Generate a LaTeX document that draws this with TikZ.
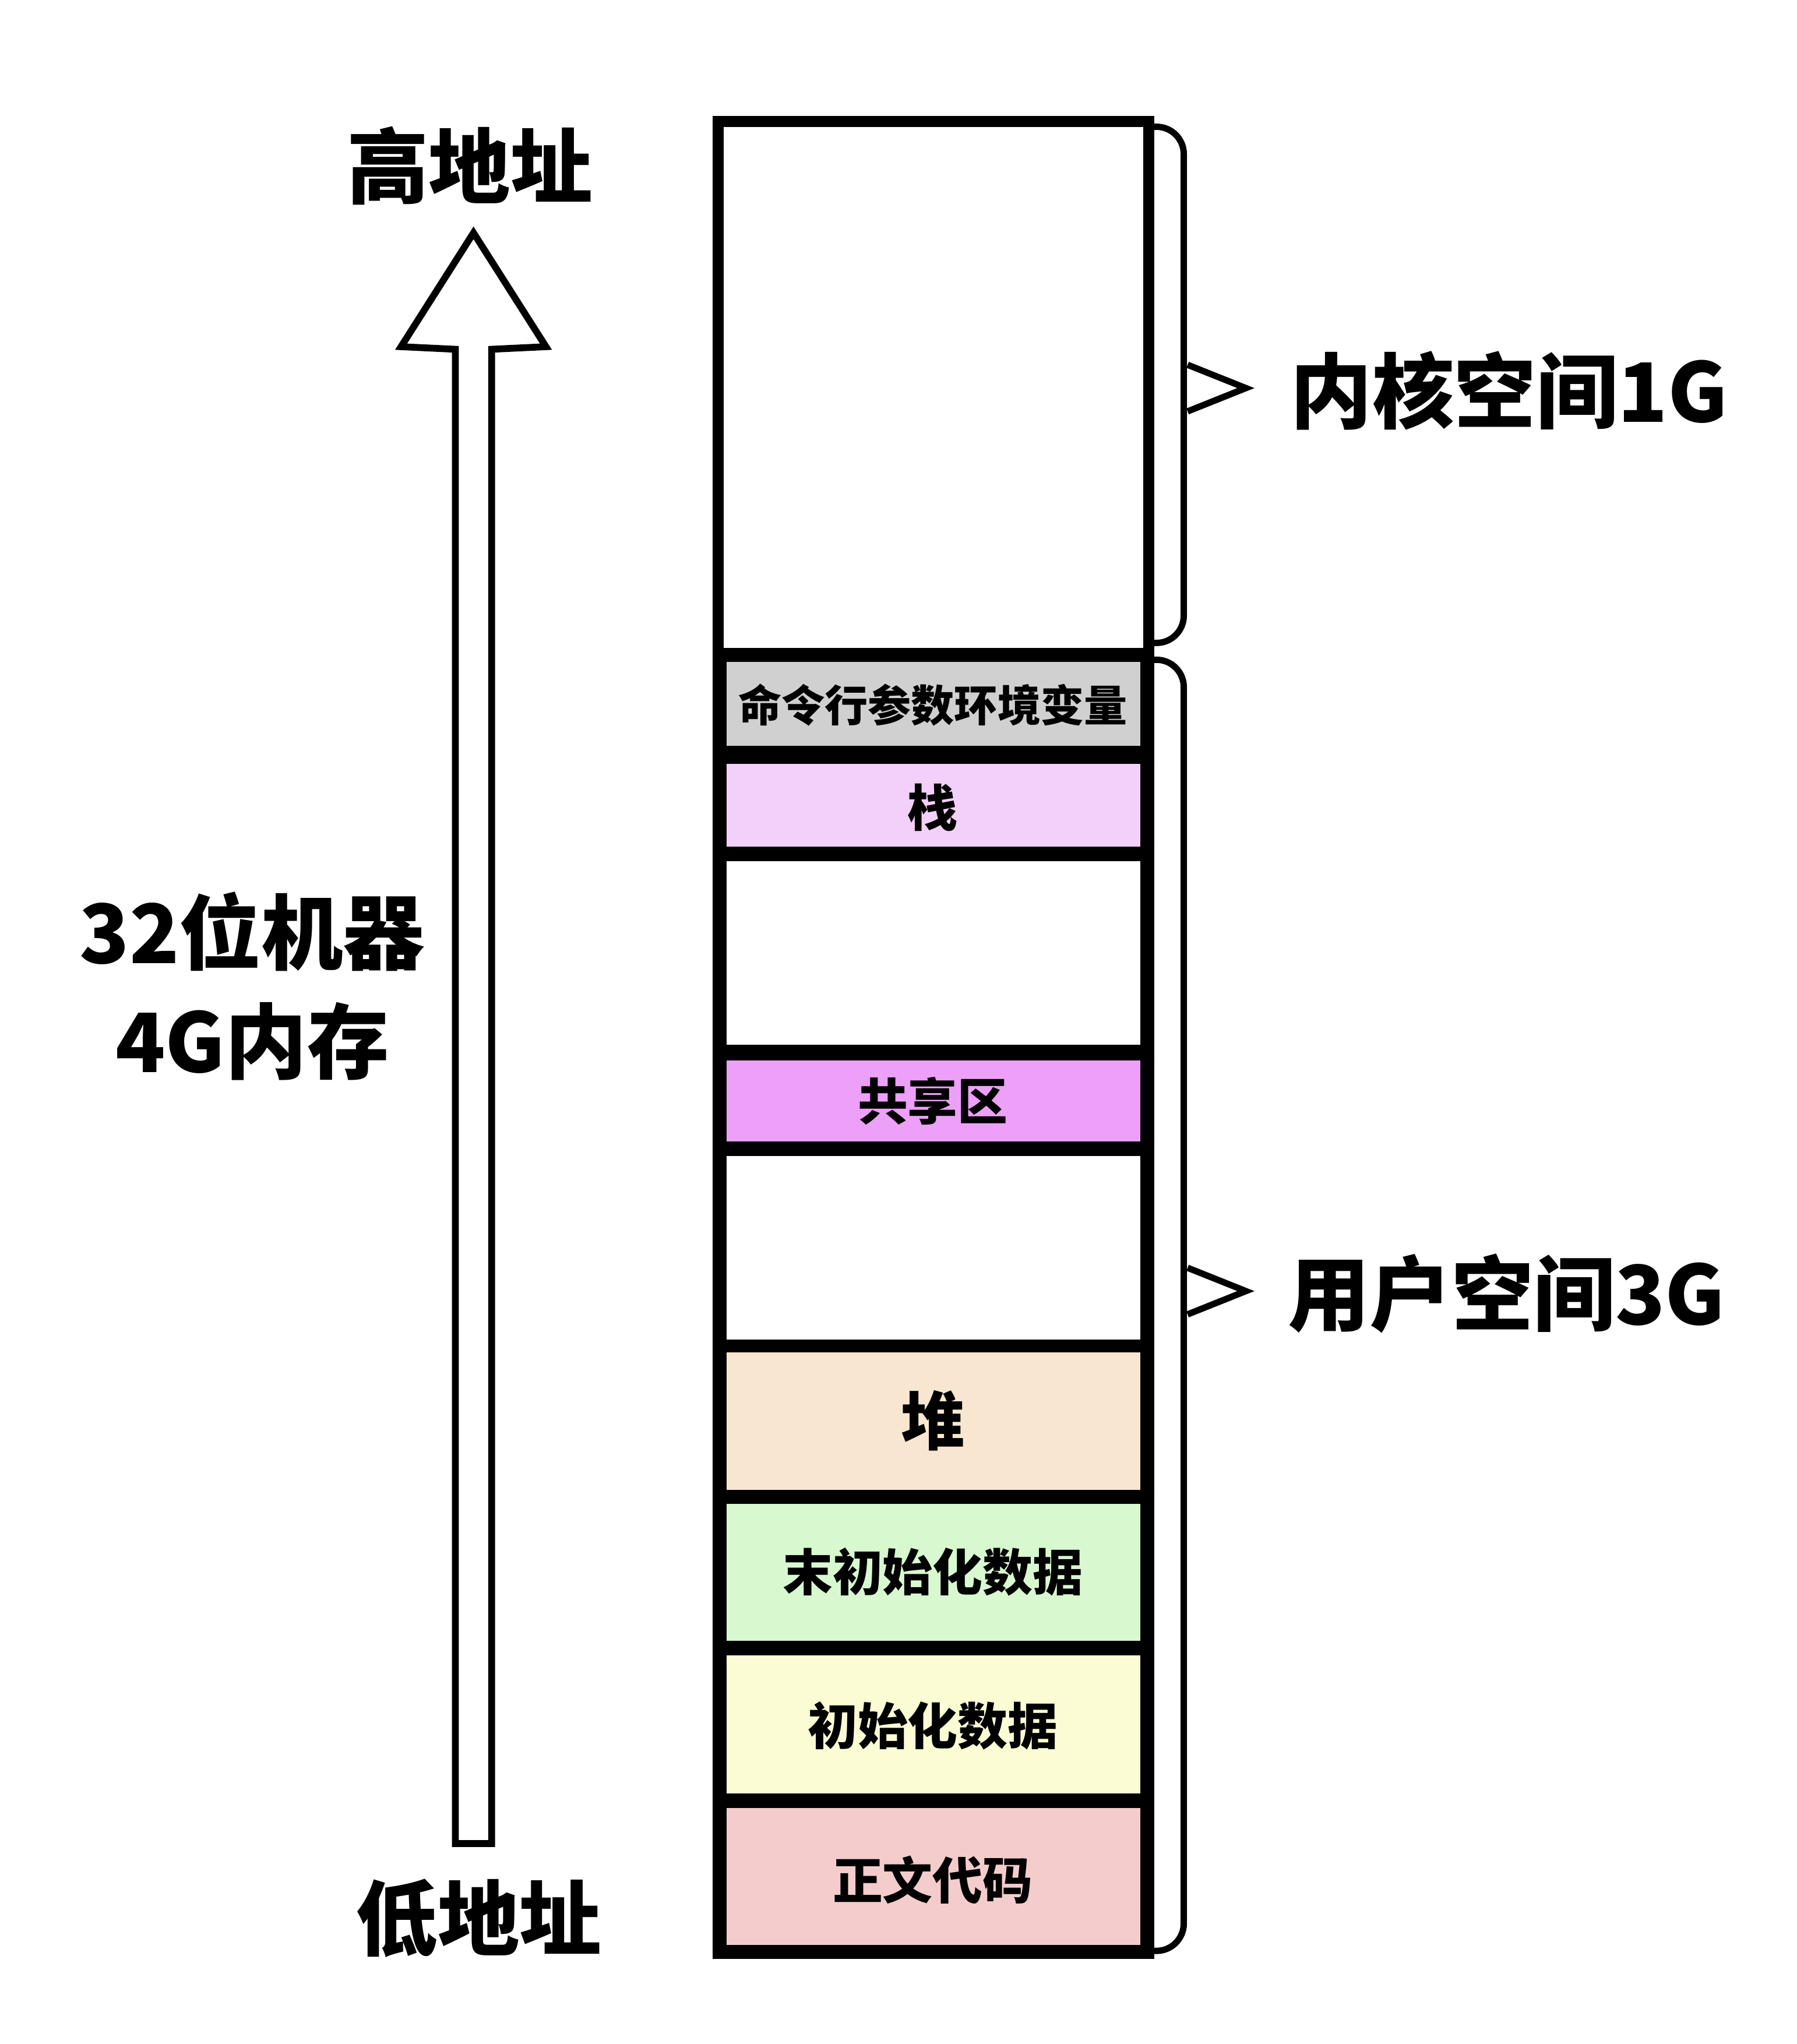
\documentclass[tikz,border=0pt]{standalone}
\usepackage{fontspec}
\newfontfamily\cjk{Noto Sans CJK SC}
\begin{document}
\begin{tikzpicture}[x=0.01cm,y=-0.01cm,
  seg/.style={draw=black,line width=2pt},
  lbl/.style={font=\cjk\bfseries\fontsize{11}{13}\selectfont},
  big/.style={font=\cjk\bfseries\fontsize{18}{22}\selectfont}]
\useasboundingbox (0,0) rectangle (1389,1580);
\definecolor{cgray}{HTML}{D0D0D0}
\definecolor{cstack}{HTML}{F3D0FA}
\definecolor{cshare}{HTML}{EDA0F8}
\definecolor{cheap}{HTML}{F9E6D0}
\definecolor{cbss}{HTML}{D8F8D0}
\definecolor{cdata}{HTML}{FCFCD4}
\definecolor{ctext}{HTML}{F4CCCC}
% rows
\path[seg,fill=cgray] (558,508) rectangle (885,580);
\node[font=\cjk\bfseries\fontsize{9.5}{11}\selectfont] (r1) at (721,545) {命令行参数环境变量};
\path[seg,fill=cstack] (558,587) rectangle (885,658);
\node[lbl] (r2) at (721,624) {栈};
\path[seg,fill=white] (558,662) rectangle (885,811);
\path[seg,fill=cshare] (558,816) rectangle (885,886);
\node[lbl] (r3) at (721,851) {共享区};
\path[seg,fill=white] (558,890) rectangle (885,1039);
\path[seg,fill=cheap] (558,1042) rectangle (885,1155);
\node[font=\cjk\bfseries\fontsize{14}{16}\selectfont] (r4) at (721,1098) {堆};
\path[seg,fill=cbss] (558,1159) rectangle (885,1272);
\node[lbl] (r5) at (721,1215) {末初始化数据};
\path[seg,fill=cdata] (558,1276) rectangle (885,1390);
\node[lbl] (r6) at (721,1334) {初始化数据};
\path[seg,fill=ctext] (558,1394) rectangle (885,1507);
\node[lbl] (r7) at (721,1453) {正文代码};
% outer
\draw[line width=2.4pt] (555,94) rectangle (888,1510);
\draw[line width=2.4pt] (555,505) -- (888,505);
% braces
\draw[line width=1.4pt,rounded corners=6pt] (890,98) -- (915,98) -- (915,497) -- (890,497);
\draw[line width=1.4pt] (918,282) -- (963,300) -- (918,318);
\draw[line width=1.4pt,rounded corners=6pt] (890,510) -- (915,510) -- (915,1508) -- (890,1508);
\draw[line width=1.4pt] (918,980) -- (963,998) -- (918,1016);
\node[big,anchor=west] (k) at (985,302) {内核空间1G};
\node[big,anchor=west] (u) at (983,1000) {用户空间3G};
% arrow
\draw[line width=1.5pt,fill=white] (352,1425) -- (352,270) -- (310,268) -- (366,180) -- (422,268) -- (380,270) -- (380,1425) -- cycle;
\node[big] (hi) at (363,128) {高地址};
\node[big] (lo) at (370,1483) {低地址};
\node[big] (m1) at (195,720) {32位机器};
\node[big] (m2) at (195,805) {4G内存};
\end{tikzpicture}
\end{document}
